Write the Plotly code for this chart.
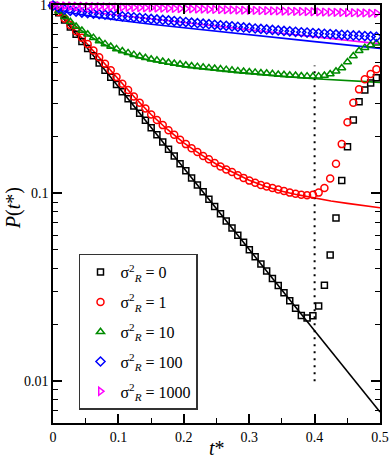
import plotly.graph_objects as go

# sampling times of the simulation points
T = [0.0, 0.0088, 0.0177, 0.0265, 0.0353, 0.0442, 0.0530, 0.0618, 0.0706, 0.0795,
     0.0883, 0.0971, 0.1060, 0.1148, 0.1236, 0.1325, 0.1413, 0.1501, 0.1589, 0.1678,
     0.1766, 0.1854, 0.1943, 0.2031, 0.2119, 0.2208, 0.2296, 0.2384, 0.2472, 0.2561,
     0.2649, 0.2737, 0.2826, 0.2914, 0.3002, 0.3091, 0.3179, 0.3267, 0.3355, 0.3444,
     0.3532, 0.3620, 0.3709, 0.3797, 0.3885, 0.3974, 0.4062, 0.4150, 0.4238, 0.4327,
     0.4415, 0.4503, 0.4592, 0.4680, 0.4768, 0.4857, 0.4945]

# simulation, sigma_R^2 = 0, 1, 10, 100, 1000
P_S0 = [1.000, 0.916, 0.839, 0.768, 0.703, 0.644, 0.590, 0.540, 0.495, 0.453,
        0.415, 0.380, 0.348, 0.319, 0.292, 0.267, 0.245, 0.224, 0.205, 0.188,
        0.172, 0.158, 0.144, 0.132, 0.121, 0.111, 0.102, 0.0930, 0.0852, 0.0780,
        0.0714, 0.0654, 0.0599, 0.0549, 0.0502, 0.0460, 0.0421, 0.0386, 0.0353, 0.0324,
        0.0296, 0.0268, 0.0245, 0.0224, 0.0217, 0.0223, 0.0252, 0.0325, 0.0470, 0.0740,
        0.117, 0.177, 0.246, 0.308, 0.355, 0.387, 0.413]
P_S1 = [1.000, 0.924, 0.854, 0.789, 0.730, 0.675, 0.624, 0.576, 0.531, 0.490,
        0.452, 0.416, 0.384, 0.355, 0.328, 0.304, 0.283, 0.263, 0.246, 0.231,
        0.217, 0.205, 0.193, 0.183, 0.174, 0.166, 0.158, 0.152, 0.145, 0.139,
        0.134, 0.130, 0.125, 0.121, 0.117, 0.114, 0.111, 0.109, 0.107, 0.105,
        0.103, 0.101, 0.0995, 0.0985, 0.0978, 0.0985, 0.101, 0.107, 0.120, 0.144,
        0.183, 0.239, 0.304, 0.358, 0.405, 0.432, 0.458]
P_S10 = [1.000, 0.933, 0.873, 0.820, 0.773, 0.736, 0.703, 0.675, 0.648, 0.625,
         0.605, 0.588, 0.573, 0.560, 0.548, 0.537, 0.527, 0.518, 0.511, 0.504,
         0.498, 0.492, 0.487, 0.481, 0.477, 0.473, 0.469, 0.466, 0.462, 0.459,
         0.456, 0.452, 0.449, 0.446, 0.443, 0.441, 0.438, 0.436, 0.433, 0.430,
         0.428, 0.426, 0.424, 0.422, 0.421, 0.420, 0.421, 0.424, 0.432, 0.447,
         0.465, 0.501, 0.539, 0.575, 0.597, 0.617, 0.630]
P_S100 = [1.000, 0.973, 0.953, 0.938, 0.927, 0.918, 0.912, 0.906, 0.900, 0.894,
          0.889, 0.883, 0.877, 0.872, 0.866, 0.860, 0.855, 0.849, 0.844, 0.838,
          0.833, 0.827, 0.822, 0.817, 0.811, 0.806, 0.801, 0.796, 0.790, 0.785,
          0.780, 0.775, 0.770, 0.765, 0.760, 0.755, 0.751, 0.746, 0.742, 0.737,
          0.733, 0.729, 0.725, 0.721, 0.718, 0.714, 0.711, 0.708, 0.705, 0.702,
          0.699, 0.696, 0.693, 0.691, 0.688, 0.685, 0.682]
P_S1000 = [1.000, 0.998, 0.997, 0.995, 0.993, 0.992, 0.990, 0.988, 0.987, 0.985,
           0.983, 0.982, 0.980, 0.978, 0.976, 0.975, 0.973, 0.972, 0.970, 0.968,
           0.967, 0.965, 0.963, 0.962, 0.960, 0.958, 0.957, 0.955, 0.953, 0.952,
           0.950, 0.949, 0.947, 0.945, 0.944, 0.942, 0.941, 0.939, 0.938, 0.936,
           0.934, 0.933, 0.931, 0.930, 0.928, 0.927, 0.925, 0.924, 0.922, 0.920,
           0.919, 0.917, 0.916, 0.914, 0.913, 0.911, 0.910]

# theory curves
T_L0 = [0.0, 0.5]
P_L0 = [1.0, 0.00687]
T_L1 = [0.0, 0.025, 0.05, 0.075, 0.1, 0.125, 0.15, 0.175, 0.2, 0.225, 0.25,
        0.275, 0.3, 0.325, 0.35, 0.375, 0.4, 0.425, 0.45, 0.475, 0.5]
P_L1 = [1.0, 0.800, 0.641, 0.511, 0.406, 0.324, 0.263, 0.219, 0.186, 0.162, 0.143,
        0.129, 0.1175, 0.109, 0.1028, 0.0982, 0.0942, 0.0912, 0.0885, 0.0861, 0.0839]
T_L10 = [0.0, 0.0125, 0.025, 0.0375, 0.05, 0.075, 0.1, 0.125, 0.15, 0.175, 0.2,
         0.25, 0.3, 0.35, 0.4, 0.45, 0.5]
P_L10 = [1.0, 0.906, 0.828, 0.762, 0.708, 0.628, 0.573, 0.535, 0.508, 0.489, 0.473,
         0.452, 0.435, 0.420, 0.408, 0.398, 0.390]
T_L100 = [0.0, 0.005, 0.01, 0.02, 0.03, 0.05, 0.1, 0.15, 0.2, 0.3, 0.4, 0.5]
P_L100 = [1.0, 0.973, 0.953, 0.927, 0.910, 0.887, 0.836, 0.796, 0.762, 0.700, 0.643, 0.592]
T_L1000 = [0.0, 0.01, 0.02, 0.04, 0.1, 0.2, 0.3, 0.4, 0.5]
P_L1000 = [1.0, 0.979, 0.964, 0.938, 0.886, 0.812, 0.744, 0.682, 0.625]

# vertical marker at t* = 0.4
T_MARK = [0.4, 0.4]
P_MARK = [0.01, 0.48]

LABELS = ["σ<sup>2</sup><sub><i>R</i></sub> = 0", "σ<sup>2</sup><sub><i>R</i></sub> = 1",
          "σ<sup>2</sup><sub><i>R</i></sub> = 10", "σ<sup>2</sup><sub><i>R</i></sub> = 100",
          "σ<sup>2</sup><sub><i>R</i></sub> = 1000"]
COLORS = ["#000000", "#FF0000", "#008B00", "#0000FF", "#FF00FF"]
SYMBOLS = ["square-open", "circle-open", "triangle-up-open", "diamond-open", "triangle-right-open"]
SIZES = [6, 7, 7, 7, 7]

X_TICKS = [0, 0.1, 0.2, 0.3, 0.4, 0.5]
X_TEXT = ["0", "0.1", "0.2", "0.3", "0.4", "0.5"]
X_MINOR = [0.05, 0.15, 0.25, 0.35, 0.45]
Y_TICKS = [0.01, 0.1, 1]
Y_TEXT = ["0.01", "0.1", "1"]
Y_MINOR = [0.007, 0.008, 0.009, 0.02, 0.03, 0.04, 0.05, 0.06, 0.07, 0.08, 0.09,
           0.2, 0.3, 0.4, 0.5, 0.6, 0.7, 0.8, 0.9]

fig = go.Figure()

lines = [(T_L0, P_L0), (T_L1, P_L1), (T_L10, P_L10), (T_L100, P_L100), (T_L1000, P_L1000)]
for (tx, py), c in zip(lines, COLORS):
    fig.add_trace(go.Scatter(x=tx, y=py, mode="lines", line=dict(color=c, width=1.6),
                             showlegend=False, hoverinfo="skip"))

fig.add_trace(go.Scatter(x=T_MARK, y=P_MARK, mode="lines",
                         line=dict(color="black", width=2, dash="2px,5px"),
                         showlegend=False, hoverinfo="skip"))

series = [P_S0, P_S1, P_S10, P_S100, P_S1000]
for i, (py, name, c, s, sz) in enumerate(zip(series, LABELS, COLORS, SYMBOLS, SIZES)):
    fig.add_trace(go.Scatter(x=T, y=py, mode="markers", name=name, cliponaxis=False,
                             legendgroup=f"g{i}",
                             marker=dict(symbol=s, size=sz, color=c, line=dict(color=c, width=1.5))))

fig.update_layout(
    width=390, height=459,
    margin=dict(l=53, r=10, t=5, b=36),
    paper_bgcolor="white", plot_bgcolor="white",
    font=dict(family="Liberation Serif", size=14, color="black"),
    legend=dict(x=0.0795, y=0.405, xanchor="left", yanchor="top", bgcolor="white",
                bordercolor="#333333", borderwidth=1.5, font=dict(size=16),
                traceorder="grouped", tracegroupgap=6),
    annotations=[
        dict(text="<i>t</i>*", xref="paper", yref="paper", x=0.5015, y=-0.0606,
             xanchor="center", yanchor="middle", showarrow=False, font=dict(size=20)),
        dict(text="<i>P</i>(<i>t</i>*)", xref="paper", yref="paper", x=-0.1223, y=0.514,
             xanchor="center", yanchor="middle", textangle=-90, showarrow=False,
             font=dict(size=20)),
        dict(text="1", xref="paper", yref="paper", x=-0.012, y=1.0, xanchor="right",
             yanchor="middle", showarrow=False, font=dict(size=14)),
    ],
)
fig.update_xaxes(
    range=[0, 0.5], tickvals=X_TICKS, ticktext=X_TEXT, ticks="inside", ticklen=9,
    tickwidth=1.5, tickcolor="black", automargin=False,
    minor=dict(tickvals=X_MINOR, ticks="inside", ticklen=5, tickwidth=1, tickcolor="black"),
    showline=True, linewidth=1.5, linecolor="black", mirror="ticks",
    showgrid=False, zeroline=False,
)
fig.update_yaxes(
    type="log", range=[-2.222, 0.003], tickvals=Y_TICKS, ticktext=Y_TEXT,
    ticks="inside", ticklen=9, tickwidth=1.5, tickcolor="black", automargin=False,
    minor=dict(tickvals=Y_MINOR, ticks="inside", ticklen=5, tickwidth=1, tickcolor="black"),
    showline=True, linewidth=1.5, linecolor="black", mirror="ticks",
    showgrid=False, zeroline=False,
)

fig.write_html("out.html", config={"displayModeBar": False},
               post_script="document.body.style.margin='0';")
